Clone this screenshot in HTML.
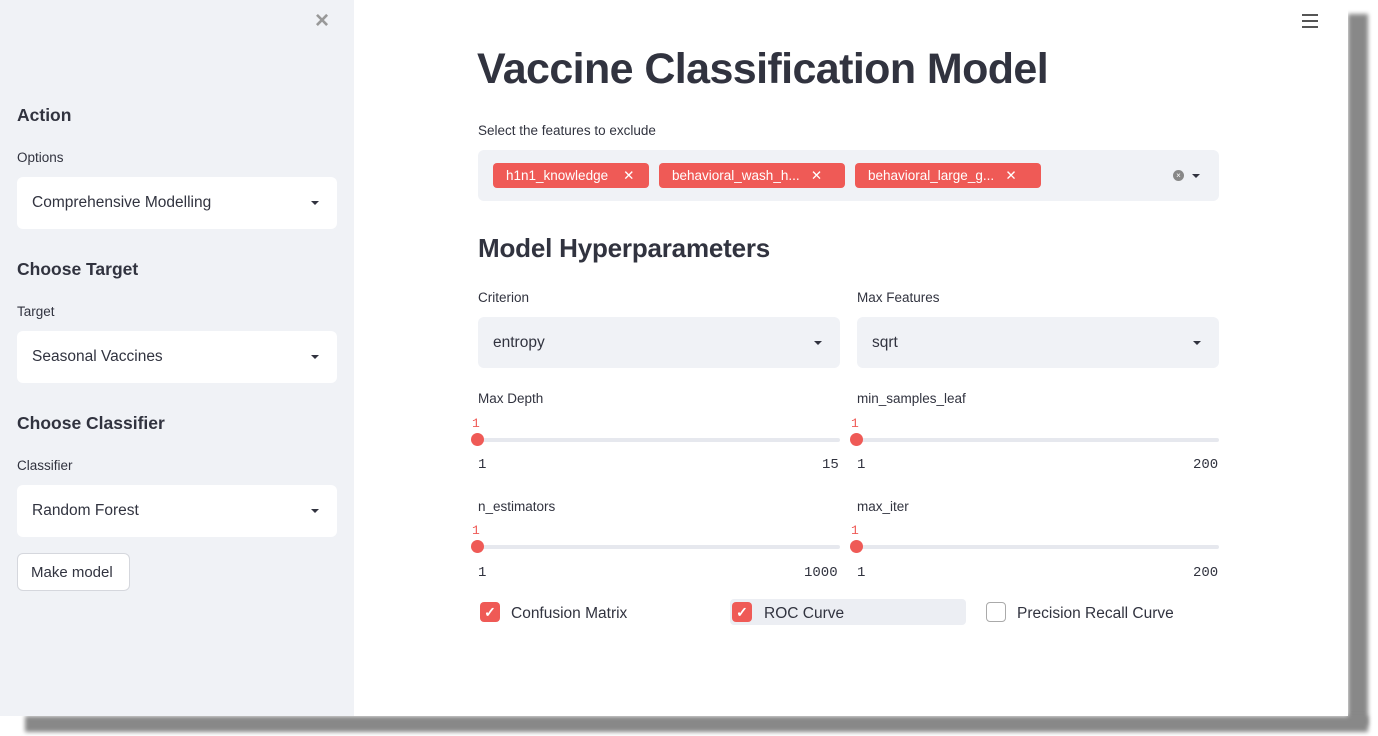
<!DOCTYPE html>
<html><head><meta charset="utf-8"><style>
*{margin:0;padding:0;box-sizing:border-box}
body{width:1378px;height:736px;background:#fff;position:relative;overflow:hidden;font-family:"Liberation Sans",sans-serif;color:#31333f}
.a{position:absolute;white-space:nowrap}
.sh1{left:1348px;top:14px;width:20px;height:712px;background:#888;filter:blur(2px)}
.sh2{left:25px;top:716px;width:1343px;height:16px;background:#888;filter:blur(2px)}
.page{left:0;top:0;width:1348px;height:716px;background:#fff}
.side{left:0;top:0;width:354px;height:716px;background:#f0f2f6}
.h{font-weight:bold;font-size:17.5px}
.l{font-size:13.5px}
.sel{background:#fff;border-radius:6px;height:52px;width:320px;left:17px;font-size:15.5px;padding:17px 15px}
.sel2{background:#f0f2f6;border-radius:6px;height:51px;width:362px;font-size:15.5px;padding:17px 15px}
.car{position:absolute;right:18px;top:24px;border-left:4px solid transparent;border-right:4px solid transparent;border-top:4px solid #31333f}
.tag{background:#ef5a56;color:#fff;border-radius:4px;height:25px;top:163px;font-size:13.5px;padding:5px 13px}
.tr{height:4px;background:#e6e8ee;border-radius:2px}
.dot{width:13px;height:13px;border-radius:50%;background:#ef5a56}
.red{color:#ef5a56;font-family:"Liberation Mono",monospace;font-size:13px}
.mono{font-family:"Liberation Mono",monospace;font-size:14px}
.cb{width:20px;height:20px;border-radius:4px;background:#ef5a56;color:#fff;font-size:14px;text-align:center;line-height:20px;font-weight:bold}
</style></head><body>
<div class="a sh1"></div><div class="a sh2"></div>
<div class="a page"></div>
<div class="a side"></div>
<div class="a" style="left:315px;top:7px;font-size:24px;color:#999;font-weight:bold">×</div>
<div class="a h" style="left:17px;top:105px">Action</div>
<div class="a l" style="left:17px;top:150px">Options</div>
<div class="a sel" style="top:177px">Comprehensive Modelling<span class="car"></span></div>
<div class="a h" style="left:17px;top:259px">Choose Target</div>
<div class="a l" style="left:17px;top:304px">Target</div>
<div class="a sel" style="top:331px">Seasonal Vaccines<span class="car"></span></div>
<div class="a h" style="left:17px;top:413px">Choose Classifier</div>
<div class="a l" style="left:17px;top:458px">Classifier</div>
<div class="a sel" style="top:485px">Random Forest<span class="car"></span></div>
<div class="a" style="left:17px;top:553px;width:113px;height:38px;border:1px solid #d5d7dd;border-radius:6px;background:#fff;font-size:15px;padding:10px 13px">Make model</div>

<div class="a" style="left:1302px;top:14px;width:16px"><div style="height:2px;background:#555;margin-bottom:4px"></div><div style="height:2px;background:#555;margin-bottom:4px"></div><div style="height:2px;background:#555"></div></div>

<div class="a" style="left:477px;top:45px;font-size:43px;font-weight:bold;letter-spacing:-0.6px">Vaccine Classification Model</div>
<div class="a l" style="left:478px;top:123px">Select the features to exclude</div>
<div class="a" style="left:478px;top:150px;width:741px;height:51px;background:#f0f2f6;border-radius:6px"></div>
<div class="a tag" style="left:493px;width:156px">h1n1_knowledge&nbsp;&nbsp;&nbsp;&nbsp;✕</div>
<div class="a tag" style="left:659px;width:186px">behavioral_wash_h...&nbsp;&nbsp;&nbsp;✕</div>
<div class="a tag" style="left:855px;width:186px">behavioral_large_g...&nbsp;&nbsp;&nbsp;✕</div>
<div class="a" style="left:1173px;top:170px;width:11px;height:11px;border-radius:50%;background:#888;color:#fff;font-size:8px;text-align:center;line-height:11px">×</div>
<div class="a" style="left:1192px;top:174px;border-left:4px solid transparent;border-right:4px solid transparent;border-top:4px solid #31333f"></div>

<div class="a" style="left:478px;top:233px;font-size:26px;font-weight:bold;letter-spacing:-0.2px">Model Hyperparameters</div>
<div class="a l" style="left:478px;top:290px">Criterion</div>
<div class="a l" style="left:857px;top:290px">Max Features</div>
<div class="a sel2" style="left:478px;top:317px">entropy<span class="car"></span></div>
<div class="a sel2" style="left:857px;top:317px">sqrt<span class="car"></span></div>

<div class="a l" style="left:478px;top:391px">Max Depth</div>
<div class="a l" style="left:857px;top:391px">min_samples_leaf</div>
<div class="a red" style="left:472px;top:416px">1</div>
<div class="a red" style="left:851px;top:416px">1</div>
<div class="a tr" style="left:478px;top:438px;width:362px"></div>
<div class="a tr" style="left:857px;top:438px;width:362px"></div>
<div class="a dot" style="left:471px;top:433px"></div>
<div class="a dot" style="left:850px;top:433px"></div>
<div class="a mono" style="left:478px;top:457px">1</div>
<div class="a mono" style="left:822px;top:457px">15</div>
<div class="a mono" style="left:857px;top:457px">1</div>
<div class="a mono" style="left:1193px;top:457px">200</div>

<div class="a l" style="left:478px;top:499px">n_estimators</div>
<div class="a l" style="left:857px;top:499px">max_iter</div>
<div class="a red" style="left:472px;top:523px">1</div>
<div class="a red" style="left:851px;top:523px">1</div>
<div class="a tr" style="left:478px;top:545px;width:362px"></div>
<div class="a tr" style="left:857px;top:545px;width:362px"></div>
<div class="a dot" style="left:471px;top:540px"></div>
<div class="a dot" style="left:850px;top:540px"></div>
<div class="a mono" style="left:478px;top:565px">1</div>
<div class="a mono" style="left:804px;top:565px">1000</div>
<div class="a mono" style="left:857px;top:565px">1</div>
<div class="a mono" style="left:1193px;top:565px">200</div>

<div class="a cb" style="left:480px;top:602px">✓</div>
<div class="a" style="left:511px;top:605px;font-size:15.5px">Confusion Matrix</div>
<div class="a" style="left:730px;top:599px;width:236px;height:26px;background:#eceef3;border-radius:4px"></div>
<div class="a cb" style="left:732px;top:602px">✓</div>
<div class="a" style="left:764px;top:605px;font-size:15.5px">ROC Curve</div>
<div class="a" style="left:986px;top:602px;width:20px;height:20px;border:1px solid #aaa;border-radius:4px;background:#fff"></div>
<div class="a" style="left:1017px;top:605px;font-size:15.5px">Precision Recall Curve</div>
</body></html>
